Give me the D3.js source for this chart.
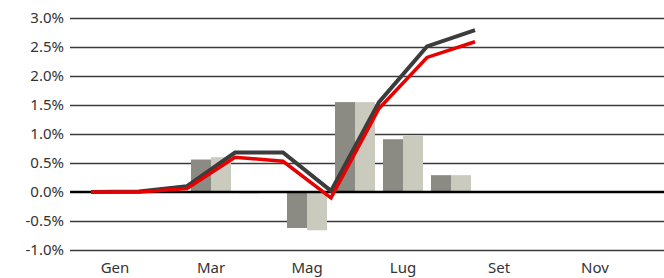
<!DOCTYPE html>
<html>
<head>
<meta charset="utf-8">
<script src="https://cdn.jsdelivr.net/npm/d3@7"></script>
<style>
  body { margin: 0; background: #fff; }
  text { font-family: "Noto Sans", "Open Sans", sans-serif; fill: #333; }
</style>
</head>
<body>
<div id="chart"></div>
<script>
var months = ['Gen','Feb','Mar','Apr','Mag','Giu','Lug','Ago','Set','Ott','Nov','Dic'];
var tickMonths = ['Gen','Mar','Mag','Lug','Set','Nov'];
var yTicks = [3.0, 2.5, 2.0, 1.5, 1.0, 0.5, 0.0, -0.5, -1.0];

// monthly bars (null = no bar)
var barsDark  = [null, null, 0.56, -0.02, -0.62, 1.55, 0.91, 0.29, null, null, null, null];
var barsLight = [null, null, 0.60, 0.00, -0.66, 1.55, 0.97, 0.29, null, null, null, null];

// cumulative lines, at month ends (first value = start of year)
var lineDark = [0, 0.01, 0.10, 0.68, 0.68, 0.02, 1.55, 2.51, 2.79];
var lineRed  = [0, 0.00, 0.06, 0.60, 0.53, -0.10, 1.44, 2.32, 2.59];

var width = 664, height = 278;
var left = 70;

var svg = d3.select('#chart').append('svg')
  .attr('width', width).attr('height', height);

var x = d3.scaleBand().domain(months).range([91, 667]).paddingInner(0);
var xEdge = d3.scaleLinear().domain([0, 12]).range([91, 667]);
var y = d3.scaleLinear().domain([-1, 3]).range([250, 18]);

// grid
svg.append('g').selectAll('line')
  .data(yTicks.filter(function(d){ return d !== 0; }))
  .enter().append('line')
    .attr('x1', left).attr('x2', width)
    .attr('y1', function(d){ return Math.round(y(d)) + 0.5; })
    .attr('y2', function(d){ return Math.round(y(d)) + 0.5; })
    .attr('stroke', '#3a3a3a').attr('stroke-width', 1.3);

// y labels
svg.append('g').selectAll('text')
  .data(yTicks)
  .enter().append('text')
    .attr('x', 64)
    .attr('y', function(d){ return y(d) + 5; })
    .attr('text-anchor', 'end')
    .style('font-size', '15px')
    .text(function(d){ return d.toFixed(1) + '%'; });

// bars
var bw = 20;
function drawBars(vals, offset, color){
  svg.append('g').selectAll('rect')
    .data(vals.map(function(v, i){ return {m: months[i], v: v}; })
      .filter(function(d){ return d.v !== null; }))
    .enter().append('rect')
      .attr('x', function(d){ return x(d.m) + x.bandwidth()/2 + offset; })
      .attr('width', bw)
      .attr('y', function(d){ return Math.min(y(d.v), y(0)); })
      .attr('height', function(d){ return Math.max(Math.abs(y(d.v) - y(0)), 0); })
      .attr('fill', color);
}
drawBars(barsDark, -bw, '#8b8b83');
drawBars(barsLight, 0, '#cbcabf');

// zero line
svg.append('line')
  .attr('x1', left).attr('x2', width)
  .attr('y1', y(0)).attr('y2', y(0))
  .attr('stroke', '#000').attr('stroke-width', 2.5);

// lines
var line = d3.line()
  .x(function(d, i){ return xEdge(i); })
  .y(function(d){ return y(d); });

svg.append('path')
  .datum(lineDark)
  .attr('d', line)
  .attr('fill', 'none')
  .attr('stroke', '#3c3c3c')
  .attr('stroke-width', 4);

svg.append('path')
  .datum(lineRed)
  .attr('d', line)
  .attr('fill', 'none')
  .attr('stroke', '#e60000')
  .attr('stroke-width', 3.5);

// x labels
svg.append('g').selectAll('text')
  .data(tickMonths)
  .enter().append('text')
    .attr('x', function(d){ return x(d) + x.bandwidth()/2; })
    .attr('y', 273)
    .attr('text-anchor', 'middle')
    .style('font-size', '15px')
    .text(function(d){ return d; });
</script>
</body>
</html>
